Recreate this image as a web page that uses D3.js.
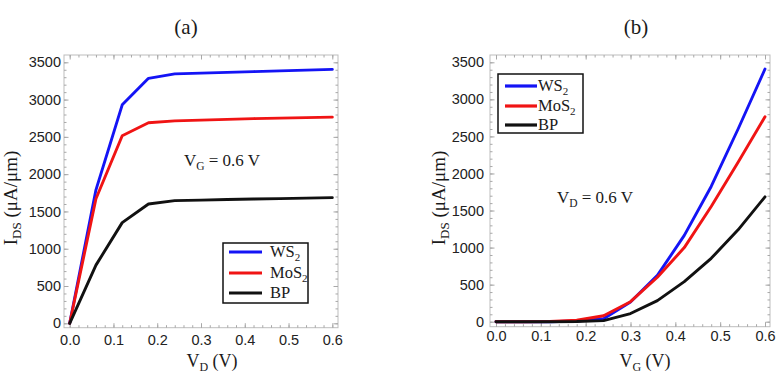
<!DOCTYPE html>
<html>
<head>
<meta charset="utf-8">
<script src="https://cdn.jsdelivr.net/npm/d3@7"></script>
<style>
  html, body { margin: 0; padding: 0; background: #fff; }
  svg { display: block; }
  .tick text { font-family: "Liberation Sans", Arial, sans-serif; font-size: 14.5px; fill: #222; }
  .serif { font-family: "Liberation Serif", "Times New Roman", serif; fill: #1a1a1a; }
</style>
</head>
<body>
<svg id="chart" width="778" height="375"></svg>
<script>
// ---- data ----
const vD = [0, 0.06, 0.12, 0.18, 0.24, 0.30, 0.36, 0.42, 0.48, 0.54, 0.60];
const ws2A = [0, 1790, 2930, 3285, 3345, 3355, 3365, 3375, 3385, 3395, 3405];
const mos2A = [0, 1670, 2515, 2690, 2715, 2725, 2735, 2745, 2752, 2758, 2765];
const bpA = [0, 780, 1350, 1600, 1645, 1652, 1660, 1666, 1672, 1678, 1685];

const vG = [0, 0.06, 0.12, 0.18, 0.24, 0.30, 0.36, 0.42, 0.48, 0.54, 0.60];
const ws2B = [0, 0, 0, 10, 40, 265, 625, 1165, 1825, 2600, 3410];
const mos2B = [0, 0, 2, 20, 80, 270, 600, 1000, 1555, 2150, 2765];
const bpB = [0, 0, 0, 2, 15, 110, 285, 540, 855, 1240, 1685];

const seriesNames = ["WS", "MoS", "BP"];
const seriesSubs = ["2", "2", ""];
const seriesColors = ["#1414f5", "#f01414", "#111111"];

const xTicks = [0, 0.1, 0.2, 0.3, 0.4, 0.5, 0.6];
const yTicks = [0, 500, 1000, 1500, 2000, 2500, 3000, 3500];

const svg = d3.select("#chart");

function panel(cfg) {
  const g = svg.append("g");
  const x = d3.scaleLinear().domain([0, 0.6]).range([cfg.x0, cfg.x1]);
  const y = d3.scaleLinear().domain([0, 3500]).range([cfg.y0, cfg.y1]);
  const fx = [cfg.fl, cfg.fr], fy = [cfg.ft, cfg.fb];

  // frame
  g.append("rect").attr("x", fx[0]).attr("y", fy[0])
    .attr("width", fx[1] - fx[0]).attr("height", fy[1] - fy[0])
    .attr("fill", "none").attr("stroke", "#bdbdbd").attr("stroke-width", 1);

  const minorX = d3.range(0, 31).map(i => i * 0.02).filter(v => x(v) >= fx[0] && x(v) <= fx[1]);
  const minorY = d3.range(0, 36).map(i => i * 100).filter(v => y(v) >= fy[0] && y(v) <= fy[1]);

  function tickAxis(axisFn, scale, vals, size, pos, labels, pad) {
    const a = axisFn(scale).tickValues(vals).tickSize(size).tickPadding(pad || 3);
    if (!labels) a.tickFormat("");
    else a.tickFormat(labels);
    const ag = g.append("g").attr("transform", pos).call(a);
    ag.select(".domain").remove();
    ag.selectAll(".tick line").attr("stroke", "#a8a8a8");
    return ag;
  }
  const fmtX = d => d.toFixed(1);
  const fmtY = d => String(d);
  // bottom
  tickAxis(d3.axisBottom, x, minorX, -2.5, `translate(0,${fy[1]})`, null);
  const bx = tickAxis(d3.axisBottom, x, xTicks, -4.5, `translate(0,${fy[1]})`, fmtX);
  bx.selectAll(".tick text").attr("y", cfg.xLabY - fy[1]).attr("dy", "0.35em");
  // top
  tickAxis(d3.axisTop, x, minorX, -2.5, `translate(0,${fy[0]})`, null);
  tickAxis(d3.axisTop, x, xTicks, -4.5, `translate(0,${fy[0]})`, null);
  // left
  tickAxis(d3.axisLeft, y, minorY, -2.5, `translate(${fx[0]},0)`, null);
  const ly = tickAxis(d3.axisLeft, y, yTicks, -4.5, `translate(${fx[0]},0)`, fmtY);
  ly.selectAll(".tick text").attr("x", cfg.yLabX - fx[0]);
  // right
  tickAxis(d3.axisRight, y, minorY, -2.5, `translate(${fx[1]},0)`, null);
  tickAxis(d3.axisRight, y, yTicks, -4.5, `translate(${fx[1]},0)`, null);

  // lines
  const line = d3.line().x(d => x(d[0])).y(d => y(d[1]));
  cfg.series.forEach((s, i) => {
    g.append("path").datum(cfg.xs.map((v, j) => [v, s[j]]))
      .attr("d", line).attr("fill", "none")
      .attr("stroke", seriesColors[i]).attr("stroke-width", 2.9)
      .attr("stroke-linejoin", "round").attr("stroke-linecap", "round");
  });

  // title
  g.append("text").attr("class", "serif").attr("x", cfg.titleX).attr("y", 34)
    .attr("text-anchor", "middle").attr("font-size", 21).text(cfg.title);

  // x axis title
  const xt = g.append("text").attr("class", "serif").attr("x", cfg.xTitleX).attr("y", 367)
    .attr("text-anchor", "middle").attr("font-size", 18);
  xt.append("tspan").text("V");
  xt.append("tspan").attr("font-size", 12).attr("dy", 4).text(cfg.xSub);
  xt.append("tspan").attr("dy", -4).text(" (V)");

  // y axis title
  const yt = g.append("text").attr("class", "serif")
    .attr("transform", `translate(${cfg.yTitleX},${cfg.yTitleY}) rotate(-90)`)
    .attr("text-anchor", "middle").attr("font-size", 19);
  yt.append("tspan").text("I");
  yt.append("tspan").attr("font-size", 13).attr("dy", 4).text("DS");
  yt.append("tspan").attr("dy", -4).text(" (\u03bcA/\u03bcm)");

  // annotation
  const an = g.append("text").attr("class", "serif").attr("x", cfg.annX).attr("y", cfg.annY)
    .attr("text-anchor", "middle").attr("font-size", 17);
  an.append("tspan").text("V");
  an.append("tspan").attr("font-size", 11.5).attr("dy", 4).text(cfg.annSub);
  an.append("tspan").attr("dy", -4).text(" = 0.6 V");

  // legend
  const L = cfg.legend;
  g.append("rect").attr("x", L.x).attr("y", L.y).attr("width", L.w).attr("height", L.h)
    .attr("fill", "#fff").attr("stroke", "#111").attr("stroke-width", 1.5);
  seriesNames.forEach((n, i) => {
    const cy = L.rows[i];
    g.append("line").attr("x1", L.lx0).attr("x2", L.lx1).attr("y1", cy).attr("y2", cy)
      .attr("stroke", seriesColors[i]).attr("stroke-width", 3.2);
    const t = g.append("text").attr("class", "serif").attr("x", L.tx).attr("y", cy + 5)
      .attr("font-size", 16.5);
    t.append("tspan").text(n);
    if (seriesSubs[i]) t.append("tspan").attr("font-size", 11).attr("dy", 4).text(seriesSubs[i]);
  });
}

panel({
  x0: 69.7, x1: 332.3, y0: 323.3, y1: 62.3,
  fl: 64, fr: 338, ft: 55, fb: 327.7,
  xLabY: 340, yLabX: 61,
  xs: vD, series: [ws2A, mos2A, bpA],
  title: "(a)", titleX: 186,
  xSub: "D", xTitleX: 212,
  yTitleX: 17, yTitleY: 198,
  annSub: "G", annX: 222, annY: 166,
  legend: { x: 223, y: 243, w: 85, h: 60, lx0: 229, lx1: 262, tx: 270, rows: [252, 273, 293] }
});

panel({
  x0: 496, x1: 765, y0: 321.7, y1: 62.3,
  fl: 490, fr: 770, ft: 55, fb: 326.7,
  xLabY: 336, yLabX: 484,
  xs: vG, series: [ws2B, mos2B, bpB],
  title: "(b)", titleX: 636,
  xSub: "G", xTitleX: 645,
  yTitleX: 445, yTitleY: 198,
  annSub: "D", annX: 595, annY: 203,
  legend: { x: 498, y: 74, w: 85, h: 59, lx0: 505, lx1: 537, tx: 538, rows: [86, 106, 125] }
});
</script>
</body>
</html>
